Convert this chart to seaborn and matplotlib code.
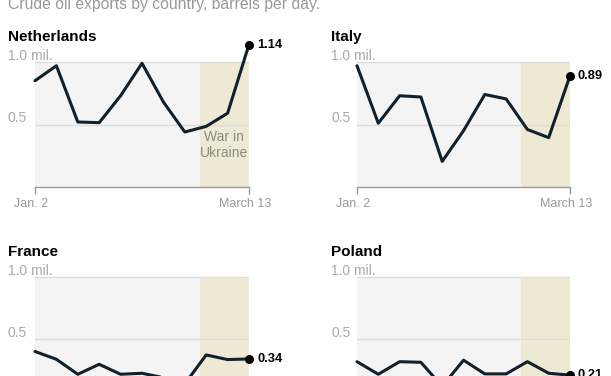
import matplotlib
matplotlib.use("Agg")
import matplotlib.pyplot as plt
import matplotlib.transforms as mtransforms
import numpy as np
import pandas as pd
import seaborn as sns

# weekly crude oil exports, million barrels per day (Jan. 2 .. March 13)
weeks = list(range(11))
netherlands = [0.85, 0.97, 0.52, 0.515, 0.73, 0.99, 0.68, 0.44, 0.485, 0.59, 1.14]
italy = [0.97, 0.51, 0.73, 0.72, 0.205, 0.45, 0.74, 0.705, 0.46, 0.395, 0.89]
france = [0.40, 0.337, 0.217, 0.297, 0.217, 0.225, 0.19, 0.14, 0.372, 0.335, 0.34]
poland = [0.318, 0.217, 0.318, 0.313, 0.12, 0.33, 0.22, 0.22, 0.318, 0.225, 0.21]
last_labels = ["1.14", "0.89", "0.34", "0.21"]
countries = ["Netherlands", "Italy", "France", "Poland"]
war_start = 7.7  # Feb. 24

W, H = 611, 376
sns.set_theme(style="white")
plt.rcParams['font.family'] = ['Liberation Sans', 'DejaVu Sans']

fig = plt.figure(figsize=(W / 100, H / 100), dpi=100)
fig.patch.set_facecolor("white")

fig.text(8 / W, 1 - 4 / H, "Crude oil exports by country, barrels per day.",
         color="#999999", fontsize=11.3, va="center", ha="left")

# (left px, right px, zero-line px from top, px per 1.0, label x px, values)
panels = [
    (35, 249, 187.0, 125.0, 8, netherlands),
    (357, 570, 187.0, 125.0, 331, italy),
    (35, 249, 401.3, 124.6, 8, france),
    (357, 570, 401.3, 124.6, 331, poland),
]

line_col = "#10202c"
for i, (l, r, y0, k, lx, vals) in enumerate(panels):
    top = y0 - 1.2 * k
    ax = fig.add_axes([l / W, 1 - y0 / H, (r - l) / W, (y0 - top) / H])
    ax.set_xlim(0, 10)
    ax.set_ylim(0, 1.2)
    ax.axhspan(0, 1.0, color="#f4f4f4", lw=0, zorder=0)
    ax.axvspan(war_start, 10, ymin=0, ymax=1.0 / 1.2, color="#eee9d2", lw=0, zorder=0.5)
    for g in (0.5, 1.0):
        ax.axhline(g, color="#dcdcdc", lw=1, zorder=1)

    df = pd.DataFrame({"week": weeks, "value": vals})
    sns.lineplot(data=df, x="week", y="value", ax=ax, color=line_col, lw=2.2,
                 zorder=3, clip_on=False)
    ax.plot(weeks[-1], vals[-1], "o", color="black", ms=5.5, zorder=4, clip_on=False)
    ax.annotate(last_labels[i], (weeks[-1], vals[-1]), xytext=(8, 0),
                textcoords="offset pixels", fontsize=9.3, fontweight="bold",
                color="black", va="center", ha="left")

    for s in ["top", "right", "left"]:
        ax.spines[s].set_visible(False)
    ax.spines["bottom"].set_color("#999999")
    ax.spines["bottom"].set_linewidth(1)
    ax.set_yticks([])
    ax.set_xticks([0, 10])
    ax.set_xticklabels(["Jan. 2", "March 13"])
    ax.tick_params(axis="x", length=5, width=1, color="#999999", labelcolor="#999999",
                   labelsize=9, pad=3, bottom=True)
    shift = mtransforms.ScaledTranslation(-4 / 100, 0, fig.dpi_scale_trans)
    for lab in ax.get_xticklabels():
        lab.set_transform(lab.get_transform() + shift)
    ax.set_xlabel("")
    ax.set_ylabel("")

    tr = mtransforms.blended_transform_factory(fig.transFigure, ax.transData)
    ax.text(lx / W, 1.0 + 2 / k, "1.0 mil.", transform=tr, color="#aaaaaa",
            fontsize=10, va="baseline", ha="left")
    ax.text(lx / W, 0.5 + 2 / k, "0.5", transform=tr, color="#aaaaaa",
            fontsize=10, va="baseline", ha="left")
    fig.text(lx / W, 1 - (y0 - 1.2 * k - 0) / H, countries[i], fontsize=11,
             fontweight="bold", color="black", va="center", ha="left")

    if i == 0:
        ax.text((war_start + 10) / 2, 0.335, "War in\nUkraine", color="#8a8a80",
                fontsize=10, ha="center", va="center", linespacing=1.15)

fig.savefig("out.png", dpi=100)
